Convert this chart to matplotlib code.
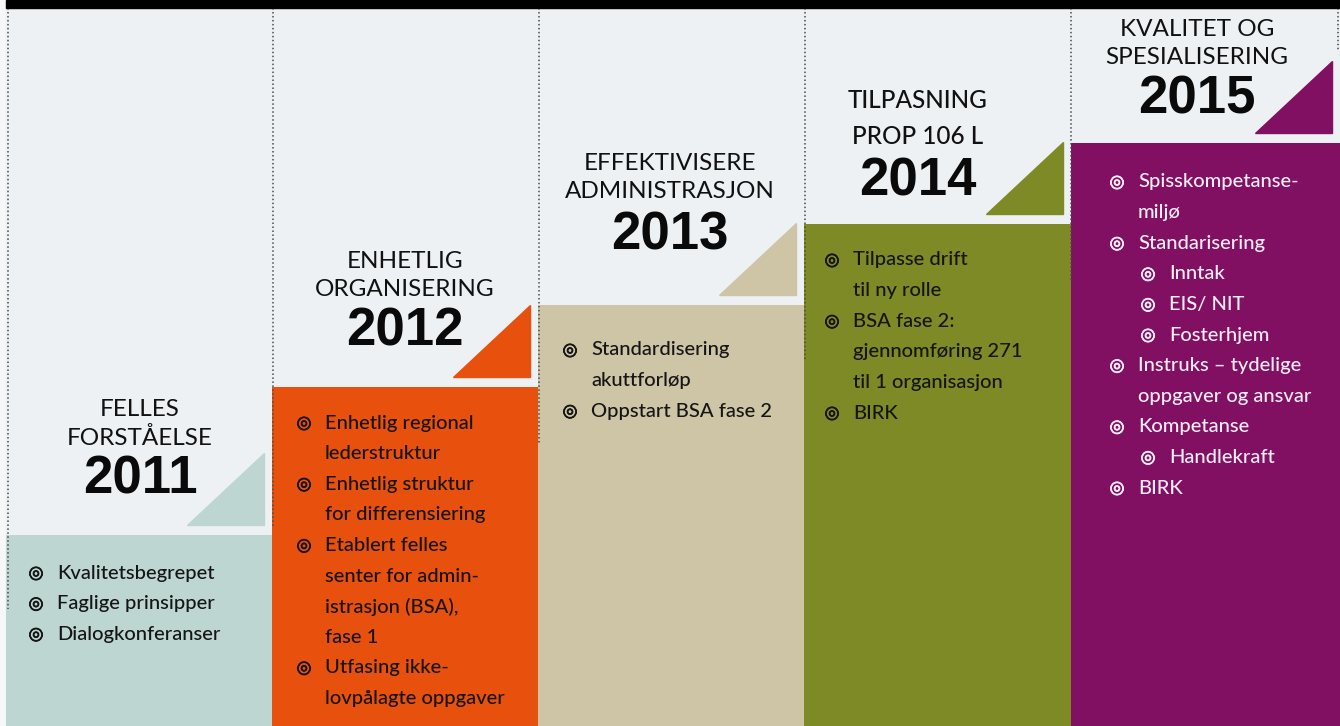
import matplotlib
matplotlib.use("Agg")
import matplotlib.pyplot as plt
import matplotlib.patheffects as pe
from matplotlib.patches import Polygon, Rectangle

W, H = 1340, 726

# data
years = ["2011", "2012", "2013", "2014", "2015"]
titles = [["FELLES", "FORSTÅELSE"],
          ["ENHETLIG", "ORGANISERING"],
          ["EFFEKTIVISERE", "ADMINISTRASJON"],
          ["TILPASNING", "PROP 106 L"],
          ["KVALITET OG", "SPESIALISERING"]]
step_heights = [191, 339, 421, 502, 583]
colors = ["#bdd6d1", "#e8500e", "#cdc5a5", "#7d8a25", "#810f62"]
text_colors = ["#151515", "#151515", "#151515", "#151515", "#f6eef4"]
bullets = [
    [(0, ["Kvalitetsbegrepet"]), (0, ["Faglige prinsipper"]), (0, ["Dialogkonferanser"])],
    [(0, ["Enhetlig regional", "lederstruktur"]),
     (0, ["Enhetlig struktur", "for differensiering"]),
     (0, ["Etablert felles", "senter for admin-", "istrasjon (BSA),", "fase 1"]),
     (0, ["Utfasing ikke-", "lovpålagte oppgaver"])],
    [(0, ["Standardisering", "akuttforløp"]), (0, ["Oppstart BSA fase 2"])],
    [(0, ["Tilpasse drift", "til ny rolle"]),
     (0, ["BSA fase 2:", "gjennomføring 271", "til 1 organisasjon"]),
     (0, ["BIRK"])],
    [(0, ["Spisskompetanse-", "miljø"]), (0, ["Standarisering"]),
     (1, ["Inntak"]), (1, ["EIS/ NIT"]), (1, ["Fosterhjem"]),
     (0, ["Instruks – tydelige", "oppgaver og ansvar"]),
     (0, ["Kompetanse"]), (1, ["Handlekraft"]), (0, ["BIRK"])],
]

# layout (pixels, measured from the top)
col_left = [6, 272, 538, 804, 1071]
col_width = [266, 266, 266, 267, 269]
head_x = [140, 405, 670, 918, 1197]
title_y = [[410, 438], [262, 290], [163, 192], [100, 136], [29, 57]]
year_base = [494, 346, 249, 195, 113]
first_line = [38, 36, 45, 36, 39]
bullet_dx = [30, 32, 32, 28, 46]
line_gap = 30.6
dot_x = [8, 273, 539, 805, 1071, 1338]
dot_end = [609, 526, 443, 360, 280, 50]


def Y(t):
    return H - t


fig = plt.figure(figsize=(W / 100, H / 100), dpi=100, facecolor="#f5f7f9")
ax = fig.add_axes([0, 0, 1, 1])
ax.set_xlim(0, W)
ax.set_ylim(0, H)
ax.axis("off")

ax.add_patch(Rectangle((6, 0), W - 6, H, color="#edf1f4", zorder=0))
ax.add_patch(Rectangle((6, Y(8)), W - 6, 8, color="black", zorder=5))

# step blocks
ax.bar(col_left, step_heights, width=col_width, align="edge", color=colors, zorder=1)

for x, e in zip(dot_x, dot_end):
    ax.plot([x, x], [Y(8), Y(e)], color="#4a4a4a", lw=1.1, ls=(0, (1, 1.6)), zorder=2)

for i in range(len(years)):
    top = step_heights[i]
    right = col_left[i] + col_width[i] - 8
    tri = Polygon([(right - 77, top + 10), (right, top + 10), (right, top + 82)],
                  closed=True, color=colors[i], zorder=3)
    ax.add_patch(tri)

    wt = "medium" if i == 3 else "normal"
    for line, ty in zip(titles[i], title_y[i]):
        ax.text(head_x[i], Y(ty), line, ha="center", va="center", fontsize=17.5,
                family=["Lato", "DejaVu Sans"], fontweight=wt, color="#111111", zorder=4)
    ax.text(head_x[i], Y(year_base[i]), years[i], ha="center", va="baseline", fontsize=38,
            family="Liberation Sans", fontweight="bold", color="#0a0a0a", zorder=4)

    y = H - top + first_line[i]
    bx = col_left[i] + bullet_dx[i]
    for level, lines in bullets[i]:
        xb = bx + level * 31
        ax.text(xb, Y(y), "◎", ha="center", va="center", fontsize=12.5,
                family="DejaVu Sans", color=text_colors[i], zorder=4,
                path_effects=[pe.withStroke(linewidth=0.6, foreground=text_colors[i])])
        for ln in lines:
            ax.text(xb + 21, Y(y), ln, ha="left", va="center", fontsize=14.5,
                    family=["Lato", "DejaVu Sans"], fontweight="medium",
                    color=text_colors[i], zorder=4)
            y += line_gap

fig.savefig("out.png", dpi=100, facecolor=fig.get_facecolor())
